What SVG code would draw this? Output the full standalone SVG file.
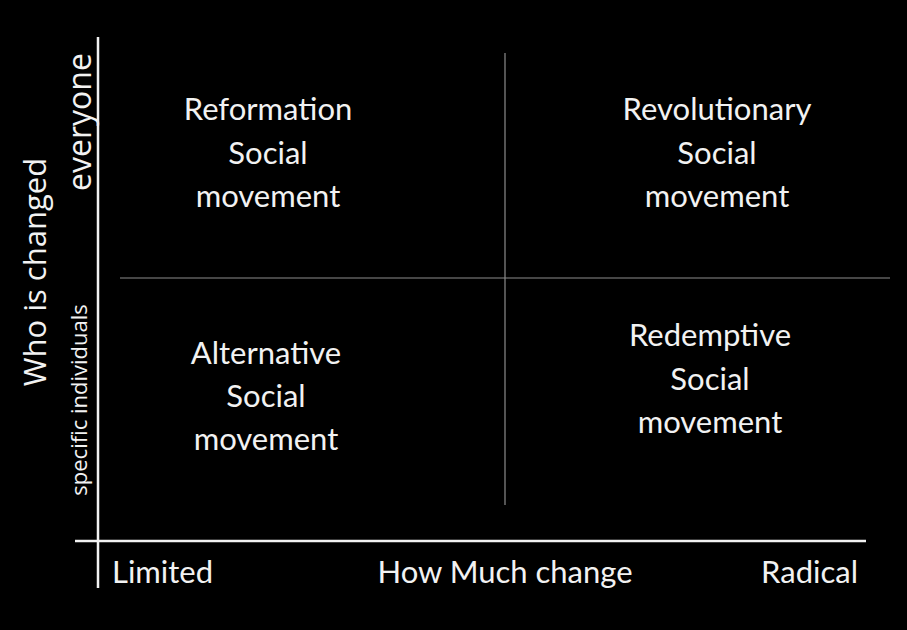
<svg xmlns="http://www.w3.org/2000/svg" width="907" height="630" viewBox="0 0 907 630">
<style>
.q{font-family:Lato,"Open Sans",sans-serif;font-size:31px;fill:#f2f2f2;text-anchor:middle}
.ax{font-family:Lato,"Open Sans",sans-serif;font-size:31px;fill:#f2f2f2}
.v{font-family:"Open Sans","Noto Sans",sans-serif;fill:#f2f2f2;text-anchor:middle}
</style>
<rect width="907" height="630" fill="#000"/>
<g id="connectors">
<line x1="505" y1="53" x2="505" y2="505" stroke="#8c8c8c" stroke-width="1.2"/>
<line x1="120" y1="278" x2="890" y2="278" stroke="#8c8c8c" stroke-width="1.2"/>
<line x1="98" y1="37" x2="98" y2="588" stroke="#f2f2f2" stroke-width="2.5"/>
<line x1="75" y1="541" x2="866" y2="541" stroke="#f2f2f2" stroke-width="2.5"/>
</g>
<g id="reformation"><text class="q" x="268" y="120">Reformation</text><text class="q" x="268" y="164">Social</text><text class="q" x="268" y="207">movement</text></g>
<g id="revolutionary"><text class="q" x="717" y="120">Revolutionary</text><text class="q" x="717" y="164">Social</text><text class="q" x="717" y="207">movement</text></g>
<g id="alternative"><text class="q" x="266" y="364">Alternative</text><text class="q" x="266" y="407">Social</text><text class="q" x="266" y="450">movement</text></g>
<g id="redemptive"><text class="q" x="710" y="346">Redemptive</text><text class="q" x="710" y="390">Social</text><text class="q" x="710" y="433">movement</text></g>
<g id="x-axis-labels">
<text class="ax" x="112" y="583">Limited</text>
<text class="ax" x="505" y="583" text-anchor="middle">How Much change</text>
<text class="ax" x="858" y="583" text-anchor="end">Radical</text>
</g>
<g id="y-axis-labels">
<text class="v" font-size="31" transform="translate(46,272) rotate(-90)">Who is changed</text>
<text class="v" font-size="32" transform="translate(91,122) rotate(-90)">everyone</text>
<text class="v" font-size="22" transform="translate(87,400) rotate(-90)">specific individuals</text>
</g>
</svg>
